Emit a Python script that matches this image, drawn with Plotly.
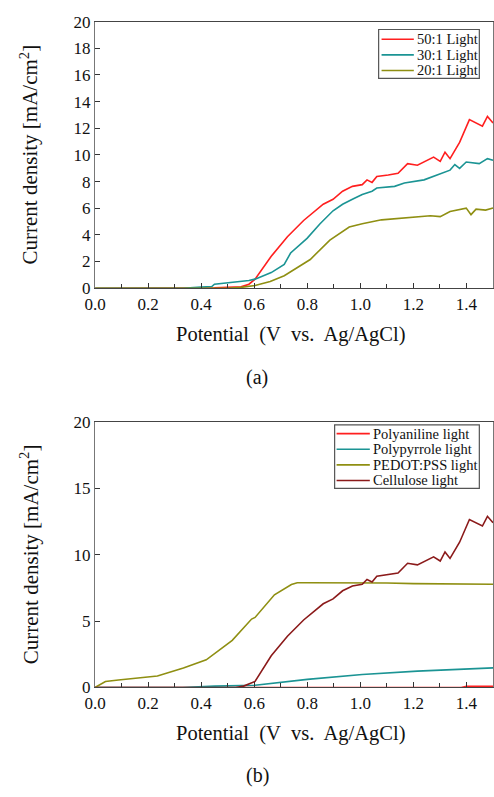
import plotly.graph_objects as go

# ---------- Panel (a) data ----------
v_50 = [0.0, 0.35, 0.45, 0.55, 0.58, 0.603, 0.664, 0.725, 0.786, 0.860, 0.897, 0.933, 0.970, 1.007,
        1.025, 1.044, 1.062, 1.105, 1.142, 1.178, 1.215, 1.276, 1.301, 1.319, 1.338, 1.374,
        1.411, 1.460, 1.479, 1.5]
j_50 = [0.0, 0.0, 0.03, 0.1, 0.3, 0.68, 2.39, 3.86, 5.08, 6.30, 6.67, 7.28, 7.64, 7.77,
        8.13, 7.94, 8.38, 8.50, 8.62, 9.35, 9.23, 9.84, 9.52, 10.21, 9.72, 10.94,
        12.65, 12.16, 12.89, 12.40]

v_30 = [0.0, 0.33, 0.40, 0.44, 0.45, 0.50, 0.55, 0.58, 0.603, 0.664, 0.713, 0.737, 0.799, 0.848,
        0.897, 0.933, 0.970, 1.007, 1.044, 1.062, 1.129, 1.166, 1.240, 1.301, 1.338,
        1.356, 1.374, 1.399, 1.448, 1.479, 1.5]
j_30 = [0.0, 0.0, 0.08, 0.12, 0.30, 0.40, 0.48, 0.58, 0.68, 1.17, 1.78, 2.64, 3.74, 4.84,
        5.81, 6.30, 6.67, 7.03, 7.28, 7.52, 7.64, 7.89, 8.13, 8.62, 8.86,
        9.28, 8.99, 9.47, 9.35, 9.72, 9.60]

v_20 = [0.0, 0.50, 0.55, 0.603, 0.66, 0.713, 0.811, 0.885, 0.958, 1.007, 1.080, 1.154, 1.215,
        1.264, 1.301, 1.338, 1.399, 1.417, 1.436, 1.472, 1.5]
j_20 = [0.0, 0.0, 0.06, 0.20, 0.50, 0.93, 2.15, 3.61, 4.59, 4.84, 5.13, 5.25, 5.32,
        5.44, 5.37, 5.76, 6.01, 5.52, 5.93, 5.86, 6.01]

# ---------- Panel (b) data ----------
v_pani = [0.0, 1.38, 1.40, 1.5]
j_pani = [0.0, 0.0, 0.08, 0.08]

v_ppy = [0.0, 0.33, 0.45, 0.55, 0.603, 0.80, 1.007, 1.215, 1.5]
j_ppy = [0.0, 0.0, 0.10, 0.15, 0.17, 0.61, 0.98, 1.23, 1.47]

v_pedot = [0.0, 0.02, 0.039, 0.088, 0.15, 0.235, 0.333, 0.419, 0.517, 0.59, 0.603, 0.676,
           0.74, 0.762, 0.80, 1.0, 1.1, 1.2, 1.36, 1.5]
j_pedot = [0.0, 0.25, 0.45, 0.56, 0.68, 0.86, 1.47, 2.08, 3.55, 5.15, 5.27, 6.98,
           7.75, 7.89, 7.89, 7.89, 7.87, 7.82, 7.77, 7.77]

v_cell = [0.0, 0.53, 0.56, 0.58, 0.603, 0.664, 0.725, 0.786, 0.860, 0.897, 0.933, 0.970, 1.007,
          1.025, 1.044, 1.062, 1.105, 1.142, 1.178, 1.215, 1.276, 1.301, 1.319, 1.338, 1.374,
          1.411, 1.460, 1.479, 1.5]
j_cell = [0.0, 0.0, 0.1, 0.25, 0.45, 2.39, 3.86, 5.08, 6.30, 6.67, 7.28, 7.64, 7.77,
          8.13, 7.94, 8.38, 8.50, 8.62, 9.35, 9.23, 9.84, 9.52, 10.21, 9.72, 10.94,
          12.65, 12.16, 12.89, 12.40]

names_a = ["50:1 Light", "30:1 Light", "20:1 Light"]
names_b = ["Polyaniline light", "Polypyrrole light", "PEDOT:PSS light", "Cellulose light"]

x_ticks = [0.0, 0.2, 0.4, 0.6, 0.8, 1.0, 1.2, 1.4]
x_ticklabels = ["0.0", "0.2", "0.4", "0.6", "0.8", "1.0", "1.2", "1.4"]
ya_ticks = [0, 2, 4, 6, 8, 10, 12, 14, 16, 18, 20]
yb_ticks = [0, 5, 10, 15, 20]

RED = "#ff1f1f"
TEAL = "#1b9494"
OLIVE = "#8f8f12"
DRED = "#8b1a1a"
FONT = "'Liberation Serif', 'Times New Roman', 'DejaVu Serif', serif"

W, H = 494, 797
def px_x(p): return p / W
def px_y(p): return (H - p) / H

series_a = [(v_50, j_50, RED), (v_30, j_30, TEAL), (v_20, j_20, OLIVE)]
series_b = [(v_pani, j_pani, RED), (v_ppy, j_ppy, TEAL), (v_pedot, j_pedot, OLIVE),
            (v_cell, j_cell, DRED)]

fig = go.Figure()
for (vx, jy, c), nm in zip(series_a, names_a):
    fig.add_trace(go.Scatter(x=vx, y=jy, mode="lines", line=dict(color=c, width=1.6),
                             name=nm, xaxis="x", yaxis="y", showlegend=False))
for (vx, jy, c), nm in zip(series_b, names_b):
    fig.add_trace(go.Scatter(x=vx, y=jy, mode="lines", line=dict(color=c, width=1.6),
                             name=nm, xaxis="x2", yaxis="y2", showlegend=False))

xdom = [px_x(86), px_x(493)]
xaxis_common = dict(range=[0, 1.5], tickvals=x_ticks, ticktext=x_ticklabels,
                    ticks="inside", ticklen=5, tickcolor="#333", showgrid=False, zeroline=False,
                    showline=True, linecolor="#444", linewidth=1.2, mirror=True,
                    minor=dict(dtick=0.1, tick0=0, ticks="inside", ticklen=4, tickcolor="#333"),
                    tickfont=dict(family=FONT, size=17, color="#111"), domain=xdom)
yaxis_common = dict(range=[0, 20], ticks="inside", ticklen=5, tickcolor="#333", showgrid=False,
                    zeroline=False, showline=True, linecolor="#777", linewidth=1.2, mirror=True,
                    tickfont=dict(family=FONT, size=17, color="#111"))

fig.update_layout(
    width=W, height=H, margin=dict(l=0, r=0, t=0, b=0),
    paper_bgcolor="white", plot_bgcolor="white",
    font=dict(family=FONT, color="#111"),
    xaxis=dict(**xaxis_common, anchor="y"),
    yaxis=dict(**yaxis_common, tickvals=ya_ticks, anchor="x",
               domain=[px_y(286), px_y(13)]),
    xaxis2=dict(**xaxis_common, anchor="y2"),
    yaxis2=dict(**yaxis_common, tickvals=yb_ticks, anchor="x2",
                domain=[px_y(695), px_y(423)]),
    showlegend=False,
)

shapes = []
ann = []

# hand-drawn legend boxes (layout only; names/colors come from the series lists)
def legend_box(x0, x1, y0, y1, rows_y, line_x0, line_x1, text_x, series, names, fsize):
    shapes.append(dict(type="rect", xref="paper", yref="paper",
                       x0=px_x(x0), x1=px_x(x1), y0=px_y(y1), y1=px_y(y0),
                       line=dict(color="#555", width=1.2), fillcolor="white", layer="above"))
    for ry, (_, _, c), nm in zip(rows_y, series, names):
        shapes.append(dict(type="line", xref="paper", yref="paper",
                           x0=px_x(line_x0), x1=px_x(line_x1), y0=px_y(ry), y1=px_y(ry),
                           line=dict(color=c, width=1.6), layer="above"))
        ann.append(dict(text=nm, x=px_x(text_x), y=px_y(ry), xref="paper", yref="paper",
                        xanchor="left", yanchor="middle", showarrow=False,
                        font=dict(family=FONT, size=fsize, color="#111")))

legend_box(376, 479, 21, 71, [31, 47, 63], 379, 412, 413, series_a, names_a, 14.5)
legend_box(331, 479, 426, 491, [435, 451, 467, 483], 333, 367, 368, series_b, names_b, 14.5)

ytitle = "Current density [mA/cm<sup>2</sup>]"
xtitle = "Potential\u00a0 (V\u00a0 vs.\u00a0 Ag/AgCl)"
for yc in [(13 + 286) / 2, (423 + 695) / 2]:
    ann.append(dict(text=ytitle, x=px_x(19), y=px_y(yc), xref="paper", yref="paper",
                    xanchor="center", yanchor="middle", textangle=-90, showarrow=False,
                    font=dict(family=FONT, size=21, color="#111")))
for yc in [333, 742]:
    ann.append(dict(text=xtitle, x=px_x(286), y=px_y(yc), xref="paper", yref="paper",
                    xanchor="center", yanchor="middle", showarrow=False,
                    font=dict(family=FONT, size=20.5, color="#111")))
for lab, yc in [("(a)", 377), ("(b)", 785)]:
    ann.append(dict(text=lab, x=px_x(252), y=px_y(yc), xref="paper", yref="paper",
                    xanchor="center", yanchor="middle", showarrow=False,
                    font=dict(family=FONT, size=20, color="#111")))
fig.update_layout(annotations=ann, shapes=shapes)

fig.write_html("out.html")
